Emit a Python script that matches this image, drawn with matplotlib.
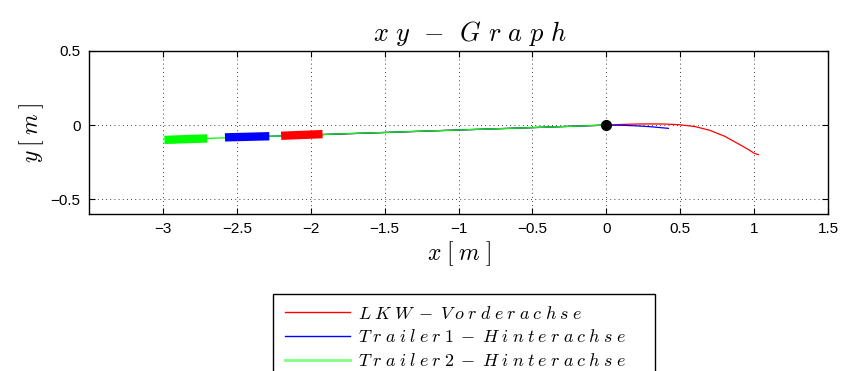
import matplotlib
matplotlib.use("Agg")
import matplotlib.pyplot as plt
from matplotlib.patches import Rectangle

plt.rcParams['mathtext.fontset'] = 'cm'
plt.rcParams['font.family'] = ['Liberation Sans', 'DejaVu Sans']

# Trajectories
red_x = [-2.05, -1.5, -1.0, -0.5, 0.0, 0.1, 0.2, 0.3, 0.4, 0.5, 0.6, 0.7, 0.8, 0.9, 0.97, 1.0, 1.03]
red_y = [-0.068, -0.05, -0.033, -0.017, 0.0, 0.004, 0.007, 0.008, 0.007, 0.002, -0.01, -0.035, -0.075, -0.13, -0.17, -0.19, -0.2]
blue_x = [-2.42, -1.5, -1.0, -0.5, 0.0, 0.1, 0.2, 0.3, 0.42]
blue_y = [-0.08, -0.05, -0.033, -0.017, 0.0, -0.001, -0.005, -0.011, -0.022]
green_x = [-2.85, -2.0, -1.0, -0.5, 0.0]
green_y = [-0.095, -0.066, -0.033, -0.017, 0.0]

# Vehicle bodies (start/end points)
truck_x = [-2.20, -1.92]
truck_y = [-0.072, -0.061]
trailer1_x = [-2.58, -2.28]
trailer1_y = [-0.083, -0.075]
trailer2_x = [-2.99, -2.70]
trailer2_y = [-0.100, -0.090]

origin_x = [0.0]
origin_y = [0.0]

xlabel_text = 'x[m]'
ylabel_text = 'y[m]'
labels = ['LKW-Vorderachse', 'Trailer1-Hinterachse', 'Trailer2-Hinterachse']


def spaced(s, sp):
    gap = r'\hspace{%.2f}' % sp
    return '$' + gap.join(s) + '$'


title_math = (r'$x\hspace{0.3}y\hspace{0.45}-\hspace{0.5}'
              r'G\hspace{0.33}r\hspace{0.33}a\hspace{0.33}p\hspace{0.33}h$')

fig = plt.figure(figsize=(8.48, 3.71), dpi=100)
ax = fig.add_axes([89/848, 1-214/371, (828-89)/848, (214-51)/371])

l1, = ax.plot(red_x, red_y, color=(1, 0, 0), lw=0.9)
l2, = ax.plot(blue_x, blue_y, color=(0, 0, 1), lw=0.9)
l3, = ax.plot(green_x, green_y, color=(0, 1, 0), lw=0.9)

ax.plot(truck_x, truck_y, color=(1, 0, 0), lw=6, solid_capstyle='butt')
ax.plot(trailer1_x, trailer1_y, color=(0, 0, 1), lw=6, solid_capstyle='butt')
ax.plot(trailer2_x, trailer2_y, color=(0, 1, 0), lw=6, solid_capstyle='butt')
ax.plot(origin_x, origin_y, 'o', color='k', ms=7)

ax.set_xlim(-3.5, 1.5)
ax.set_ylim(-0.6, 0.5)
ax.set_xticks([-3, -2.5, -2, -1.5, -1, -0.5, 0, 0.5, 1, 1.5])
ax.set_xticklabels(['\u22123', '\u22122.5', '\u22122', '\u22121.5', '\u22121', '\u22120.5', '0', '0.5', '1', '1.5'])
ax.set_yticks([-0.5, 0, 0.5])
ax.set_yticklabels(['\u22120.5', '0', '0.5'])
ax.tick_params(direction='in', length=4, width=0.8, top=True, right=True, labelsize=11, pad=6)
ax.grid(True, color='k', linestyle=(0, (1, 4)), linewidth=0.6)
for s in ax.spines.values():
    s.set_linewidth(1.0)

ax.set_title(title_math, fontsize=19, pad=7, x=(470-89)/739)
ax.set_xlabel(spaced(xlabel_text, 0.28), fontsize=17, labelpad=2)
ax.set_ylabel(spaced(ylabel_text, 0.25), fontsize=17, labelpad=3)

h1, = ax.plot([], [], color=(1, 0, 0), lw=1)
h2, = ax.plot([], [], color=(0, 0, 1), lw=1)
h3, = ax.plot([], [], color=(0.5, 1, 0.5), lw=2)
leg = fig.legend([h1, h2, h3], [spaced(t, 0.27) for t in labels], loc='upper left',
                 bbox_to_anchor=(272/848, 1-293/371), fontsize=13,
                 frameon=False,
                 handlelength=3.6, handletextpad=0.45, labelspacing=0.37,
                 borderpad=0.7, borderaxespad=0)

# legend frame (MATLAB style, wider than its contents, cut off at the bottom)
frame = Rectangle((273/848, -0.1), (655-273)/848, (371-294)/371 + 0.1,
                  transform=fig.transFigure, fill=False, edgecolor='k',
                  linewidth=1.0, clip_on=False)
fig.add_artist(frame)

fig.savefig('out.png', dpi=100)
